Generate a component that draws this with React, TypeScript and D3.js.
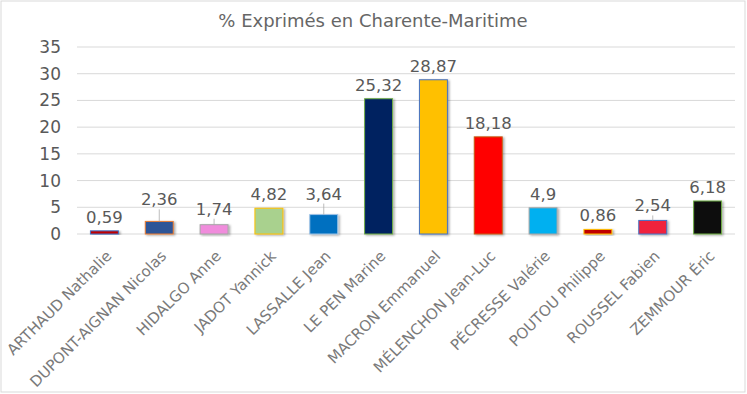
import React from 'react'
import * as d3 from 'd3'

const candidates = [
  'ARTHAUD Nathalie',
  'DUPONT-AIGNAN Nicolas',
  'HIDALGO Anne',
  'JADOT Yannick',
  'LASSALLE Jean',
  'LE PEN Marine',
  'MACRON Emmanuel',
  'MÉLENCHON Jean-Luc',
  'PÉCRESSE Valérie',
  'POUTOU Philippe',
  'ROUSSEL Fabien',
  'ZEMMOUR Éric',
]
const percents = [0.59, 2.36, 1.74, 4.82, 3.64, 25.32, 28.87, 18.18, 4.9, 0.86, 2.54, 6.18]
const valueLabels = ['0,59', '2,36', '1,74', '4,82', '3,64', '25,32', '28,87', '18,18', '4,9', '0,86', '2,54', '6,18']
const yTicks = [0, 5, 10, 15, 20, 25, 30, 35]

const fills = ['#c00000', '#2f5597', '#f08cdc', '#a9d18e', '#0070c0', '#002060', '#ffc000', '#ff0000', '#00b0f0', '#c00000', '#f0203c', '#111111']
const strokes = ['#4472c4', '#ed7d31', '#a5a5a5', '#ffc000', '#9dc3e6', '#70ad47', '#4472c4', '#c55a11', '#a5a5a5', '#ffc000', '#4472c4', '#70ad47']
// extra lift of the data labels that Excel moved up (with a leader line)
const labelLift = [0, 8, 2, 0, 7, 0, 0, 0, 0, 0, 1, 0]

const width = 747
const height = 394
const left = 77
const right = 735
const top = 47
const bottom = 234

export default function App() {
  const x = d3.scaleBand<string>().domain(candidates).range([left, right]).paddingInner(0.49).paddingOuter(0.245)
  const y = d3.scaleLinear().domain([0, 35]).range([bottom, top])
  const font = '"DejaVu Sans", sans-serif'

  return (
    <svg width={width} height={height} style={{ position: 'absolute', left: 0, top: 0 }} fontFamily={font}>
      <defs>
        <filter id="shadow" x="-20%" y="-20%" width="150%" height="150%">
          <feDropShadow dx="1.5" dy="1" stdDeviation="1" floodColor="#000" floodOpacity="0.35" />
        </filter>
      </defs>
      <rect x={0} y={0} width={width} height={height} fill="#fff" />
      <rect x={1} y={1} width={744} height={391} fill="none" stroke="#d9d9d9" strokeWidth={1} />
      <text x={373} y={27} textAnchor="middle" fontSize={18} fill="#666666">
        % Exprimés en Charente-Maritime
      </text>
      {yTicks.map((t) => (
        <g key={t}>
          <line x1={left} x2={right} y1={y(t)} y2={y(t)} stroke="#d9d9d9" strokeWidth={1} />
          <text x={61} y={y(t) + 6} textAnchor="end" fontSize={17} fill="#595959">
            {t}
          </text>
        </g>
      ))}
      {candidates.map((c, i) => {
        const bx = x(c) as number
        const bw = x.bandwidth()
        const cx = bx + bw / 2
        const by = y(percents[i])
        const ly = by - 8 - labelLift[i]
        return (
          <g key={c}>
            <rect
              x={bx}
              y={by}
              width={bw}
              height={bottom - by}
              fill={fills[i]}
              stroke={strokes[i]}
              strokeWidth={1}
              filter="url(#shadow)"
            />
            {labelLift[i] > 0 && (
              <line x1={cx} x2={cx} y1={ly + 4} y2={by} stroke="#a6a6a6" strokeWidth={0.75} />
            )}
            <text x={cx} y={ly} textAnchor="middle" fontSize={16.5} fill="#595959">
              {valueLabels[i]}
            </text>
            <text
              transform={`translate(${cx + 8},${257}) rotate(-45)`}
              textAnchor="end"
              fontSize={15}
              fill="#7a7a7a"
            >
              {c}
            </text>
          </g>
        )
      })}
    </svg>
  )
}
